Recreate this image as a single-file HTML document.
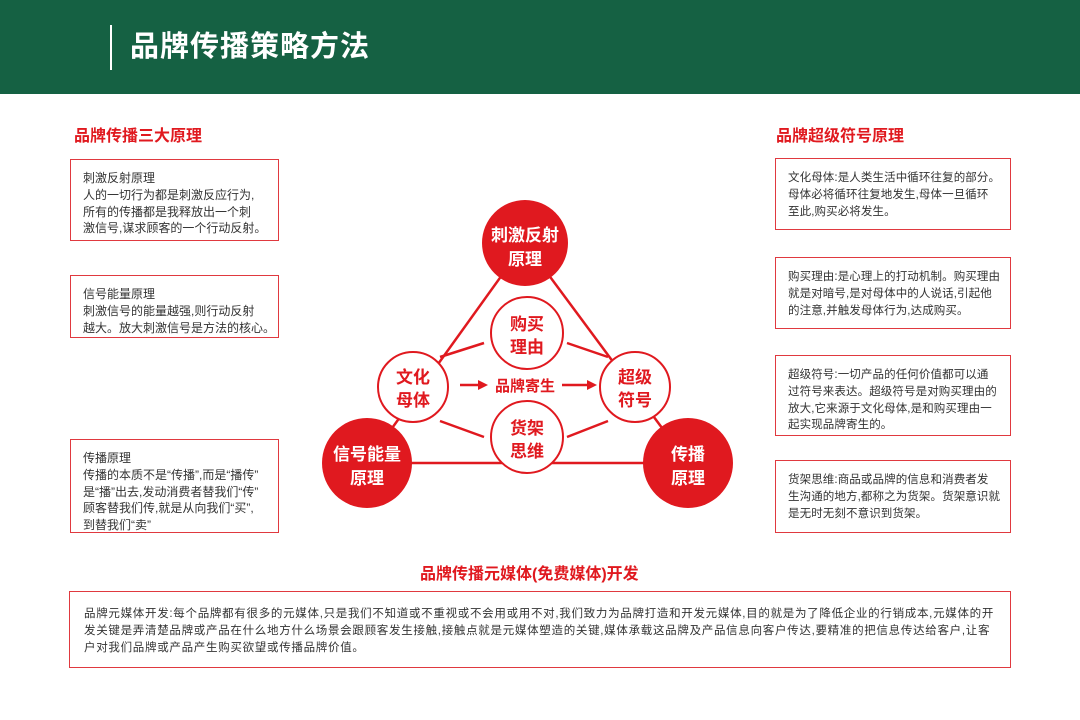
<!DOCTYPE html>
<html><head><meta charset="utf-8"><style>
body{margin:0;width:1080px;height:720px;position:relative;background:#fff;font-family:"Liberation Sans","Noto Sans CJK SC",sans-serif;overflow:hidden}
.hd{position:absolute;left:0;top:0;width:1080px;height:94px;background:#156143}
.vl{position:absolute;left:110px;top:25px;width:2px;height:45px;background:#fff}
.tt{position:absolute;left:130px;top:27px;font-size:29px;font-weight:bold;color:#fff;letter-spacing:1px;line-height:40px}
.h2{position:absolute;color:#e0191f;font-weight:bold;font-size:16px;line-height:20px}
.bx{position:absolute;border:1.5px solid #e0393f;box-sizing:border-box;padding:11px 0 0 12px;font-size:11.5px;line-height:16.8px;color:#333;white-space:nowrap}
.l{font-size:12px;padding-top:10px}
.r{letter-spacing:0.1px}
</style></head><body>
<div class="hd"></div><div class="vl"></div><div class="tt">品牌传播策略方法</div>
<div class="h2" style="left:74px;top:127px">品牌传播三大原理</div>
<div class="h2" style="left:776px;top:127px">品牌超级符号原理</div>
<div class="h2" style="left:420px;top:565px">品牌传播元媒体(免费媒体)开发</div>

<div class="bx l" style="left:70px;top:159px;width:209px;height:82px">刺激反射原理<br>人的一切行为都是刺激反应行为,<br>所有的传播都是我释放出一个刺<br>激信号,谋求顾客的一个行动反射。</div>
<div class="bx l" style="left:70px;top:275px;width:209px;height:63px">信号能量原理<br>刺激信号的能量越强,则行动反射<br>越大。放大刺激信号是方法的核心。</div>
<div class="bx l" style="left:70px;top:439px;width:209px;height:94px">传播原理<br>传播的本质不是“传播”,而是“播传”<br>是“播”出去,发动消费者替我们“传”<br>顾客替我们传,就是从向我们“买”,<br>到替我们“卖”</div>

<div class="bx r" style="left:775px;top:158px;width:236px;height:72px">文化母体:是人类生活中循环往复的部分。<br>母体必将循环往复地发生,母体一旦循环<br>至此,购买必将发生。</div>
<div class="bx r" style="left:775px;top:257px;width:236px;height:72px">购买理由:是心理上的打动机制。购买理由<br>就是对暗号,是对母体中的人说话,引起他<br>的注意,并触发母体行为,达成购买。</div>
<div class="bx r" style="left:775px;top:355px;width:236px;height:81px">超级符号:一切产品的任何价值都可以通<br>过符号来表达。超级符号是对购买理由的<br>放大,它来源于文化母体,是和购买理由一<br>起实现品牌寄生的。</div>
<div class="bx r" style="left:775px;top:460px;width:236px;height:73px">货架思维:商品或品牌的信息和消费者发<br>生沟通的地方,都称之为货架。货架意识就<br>是无时无刻不意识到货架。</div>

<div class="bx" style="left:69px;top:591px;width:942px;height:77px;padding:14px 0 0 14px;letter-spacing:0.7px">品牌元媒体开发:每个品牌都有很多的元媒体,只是我们不知道或不重视或不会用或用不对,我们致力为品牌打造和开发元媒体,目的就是为了降低企业的行销成本,元媒体的开<br>发关键是弄清楚品牌或产品在什么地方什么场景会跟顾客发生接触,接触点就是元媒体塑造的关键,媒体承载这品牌及产品信息向客户传达,要精准的把信息传达给客户,让客<br>户对我们品牌或产品产生购买欲望或传播品牌价值。</div>

<svg style="position:absolute;left:0;top:0" width="1080" height="720">
<g stroke="#e0191f" stroke-width="2.5" fill="none">
<line x1="525" y1="243" x2="367" y2="463"/>
<line x1="525" y1="243" x2="688" y2="463"/>
<line x1="367" y1="463" x2="688" y2="463"/>
<line x1="440" y1="357" x2="484" y2="343"/>
<line x1="567" y1="343" x2="608" y2="357"/>
<line x1="440" y1="421" x2="484" y2="437"/>
<line x1="567" y1="437" x2="608" y2="421"/>
<line x1="460" y1="385" x2="480" y2="385"/>
<line x1="562" y1="385" x2="592" y2="385"/>
</g>
<polygon points="488,385 478,380 478,390" fill="#e0191f"/>
<polygon points="597,385 587,380 587,390" fill="#e0191f"/>
<g fill="#fff" stroke="#e0191f" stroke-width="2">
<circle cx="413" cy="387" r="35"/><circle cx="635" cy="387" r="35"/>
<circle cx="527" cy="333" r="36"/><circle cx="527" cy="437" r="36"/>
</g>
<g fill="#e0191f"><circle cx="525" cy="243" r="43"/><circle cx="367" cy="463" r="45"/><circle cx="688" cy="463" r="45"/></g>
<g font-family="Liberation Sans,Noto Sans CJK SC,sans-serif" font-weight="bold" font-size="17" text-anchor="middle">
<g fill="#fff"><text x="525" y="241">刺激反射</text><text x="525" y="265">原理</text>
<text x="367" y="460">信号能量</text><text x="367" y="484">原理</text>
<text x="688" y="460">传播</text><text x="688" y="484">原理</text></g>
<g fill="#e0191f"><text x="413" y="383">文化</text><text x="413" y="406">母体</text>
<text x="635" y="383">超级</text><text x="635" y="406">符号</text>
<text x="527" y="330">购买</text><text x="527" y="353">理由</text>
<text x="527" y="434">货架</text><text x="527" y="457">思维</text>
<text x="525" y="391" font-size="15">品牌寄生</text></g>
</g>
</svg>
</body></html>
